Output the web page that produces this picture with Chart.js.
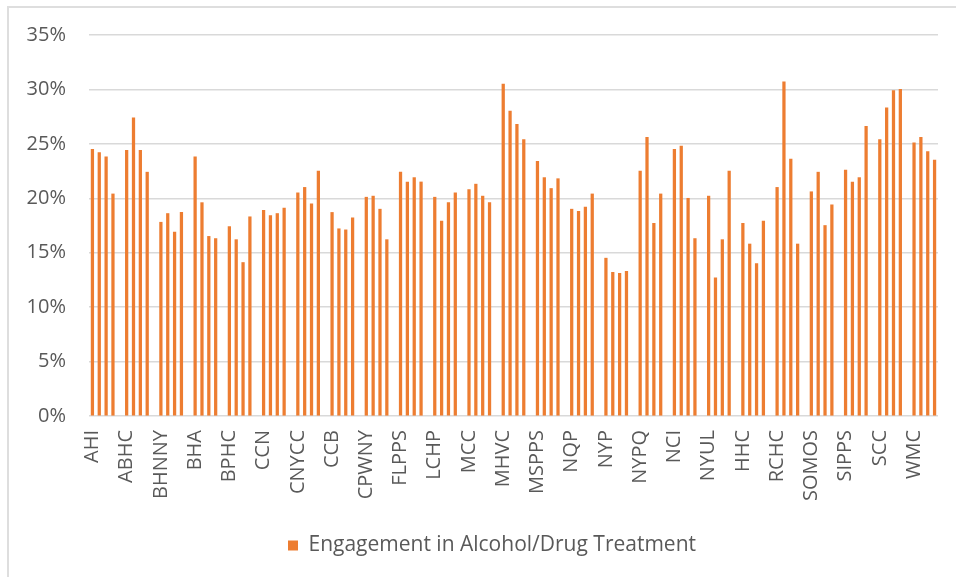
<!DOCTYPE html>
<html>
<head>
<meta charset="utf-8">
<script src="https://cdn.jsdelivr.net/npm/chart.js@4"></script>
<style>
  html, body { margin: 0; padding: 0; background: #fff; }
  #wrap { position: relative; width: 956px; height: 577px; overflow: hidden; }
  #frame {
    position: absolute; left: 7px; top: 6px; right: -10px; bottom: -10px;
    border-left: 2px solid #dedede; border-top: 2px solid #dedede;
  }
  canvas { position: absolute; left: 0; top: 0; }
</style>
</head>
<body>
<div id="wrap">
  <div id="frame"></div>
  <canvas id="chart" width="956" height="577"></canvas>
</div>
<script>
// PPS names, one group of four measurement periods each
const ppsNames = [
  "AHI", "ABHC", "BHNNY", "BHA", "BPHC", "CCN", "CNYCC", "CCB", "CPWNY",
  "FLPPS", "LCHP", "MCC", "MHVC", "MSPPS", "NQP", "NYP", "NYPQ", "NCI",
  "NYUL", "HHC", "RCHC", "SOMOS", "SIPPS", "SCC", "WMC",
];

// engagement rate (%) per period, same order as ppsNames
const period1 = [24.5, 24.4, 17.8, 23.8, 17.4, 18.9, 20.5, 18.7, 20.1, 22.4, 20.1, 20.8, 30.5,
                 23.4, 19.0, 14.5, 22.5, 24.5, 20.2, 17.7, 21.0, 20.6, 22.6, 25.4, 25.1];
const period2 = [24.2, 27.4, 18.6, 19.6, 16.2, 18.4, 21.0, 17.2, 20.2, 21.5, 17.9, 21.3, 28.0,
                 21.9, 18.8, 13.2, 25.6, 24.8, 12.7, 15.8, 30.7, 22.4, 21.5, 28.3, 25.6];
const period3 = [23.8, 24.4, 16.9, 16.5, 14.1, 18.6, 19.5, 17.1, 19.0, 21.9, 19.6, 20.2, 26.8,
                 20.9, 19.2, 13.1, 17.7, 20.0, 16.2, 14.0, 23.6, 17.5, 21.9, 29.9, 24.3];
const period4 = [20.4, 22.4, 18.7, 16.3, 18.3, 19.1, 22.5, 18.2, 16.2, 21.5, 20.5, 19.6, 25.4,
                 21.8, 20.4, 13.3, 20.4, 16.3, 22.5, 17.9, 15.8, 19.4, 26.6, 30.0, 23.5];

const yTicks = [0, 5, 10, 15, 20, 25, 30, 35];

// flatten into one category axis: 4 bars per PPS, an empty slot between groups
const labels = [];
const values = [];
ppsNames.forEach((name, i) => {
  if (i > 0) { labels.push(""); values.push(null); }
  labels.push(name, "", "", "");
  values.push(period1[i], period2[i], period3[i], period4[i]);
});

const FONT = { family: "'Open Sans', sans-serif", size: 20 };
const TEXT = "#595959";

// nudge the legend right so it sits centred under the whole frame
const legendShift = {
  id: "legendShift",
  afterLayout(chart) {
    const lg = chart.legend;
    if (lg) { lg.left += 23; lg.right += 23; }
  },
};

new Chart(document.getElementById("chart"), {
  type: "bar",
  data: {
    labels,
    datasets: [
      {
        label: "Engagement in Alcohol/Drug Treatment",
        data: values,
        backgroundColor: "#ED7D31",
        barThickness: 2.6,
      },
    ],
  },
  options: {
    responsive: false,
    animation: false,
    layout: { padding: { left: 0, right: 18, top: 35, bottom: 11 } },
    plugins: {
      tooltip: { enabled: false },
      legend: {
        position: "bottom",
        labels: {
          boxWidth: 10,
          boxHeight: 10,
          color: TEXT,
          font: { family: FONT.family, size: 21 },
          padding: 10,
        },
      },
    },
    scales: {
      x: {
        grid: { display: false, drawTicks: false },
        border: { display: false },
        ticks: {
          autoSkip: false,
          maxRotation: 90,
          minRotation: 90,
          padding: 14,
          color: TEXT,
          font: FONT,
        },
        afterFit: (scale) => {
          scale.height = 109;
          scale.paddingLeft = 0;
          scale.paddingRight = 0;
        },
      },
      y: {
        min: 0,
        max: 35,
        afterBuildTicks: (scale) => { scale.ticks = yTicks.map((v) => ({ value: v })); },
        grid: { color: "#d9d9d9", lineWidth: 1.5, drawTicks: false },
        border: { display: false },
        ticks: {
          padding: 23,
          color: TEXT,
          font: FONT,
          callback: (v) => v + "%",
        },
        afterFit: (scale) => { scale.width = 89; },
      },
    },
  },
  plugins: [legendShift],
});
</script>
</body>
</html>
